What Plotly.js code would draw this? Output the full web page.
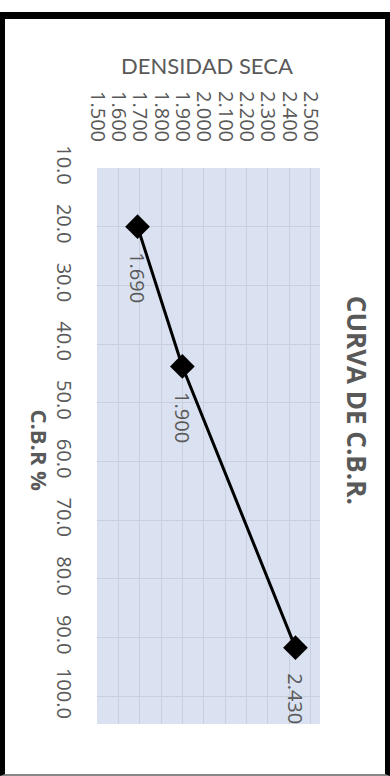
<!DOCTYPE html>
<html>
<head>
<meta charset="utf-8">
<script src="https://cdn.plot.ly/plotly-3.0.1.min.js"></script>
<style>
  html, body { margin:0; padding:0; background:#ffffff; width:390px; height:776px; overflow:hidden; }
  #frame { position:absolute; left:0; top:12px; width:380px; height:755px;
           border-left:5px solid #000; border-right:5px solid #000; border-top:7px solid #000; border-bottom:2px solid #888; background:#fff; }
  #chart { width:380px; height:755px; }
</style>
</head>
<body>
<div id="frame"><div id="chart"></div></div>
<script>
// Data
const cbrPercent = [20.0, 43.8, 91.7];          // C.B.R %
const densidadSeca = [1.690, 1.900, 2.430];     // DENSIDAD SECA
const densidadLabels = ['1.690', '1.900', '2.430'];
const densidadTicks = [1.5, 1.6, 1.7, 1.8, 1.9, 2.0, 2.1, 2.2, 2.3, 2.4, 2.5];
const cbrTicks = [10, 20, 30, 40, 50, 60, 70, 80, 90, 100];

const textColor = '#595959';
const gridColor = '#c9cfdc';

const trace = {
  x: densidadSeca,
  y: cbrPercent,
  type: 'scatter',
  mode: 'lines+markers',
  line: { color: '#000000', width: 3 },
  marker: { symbol: 'diamond', size: 19, color: '#000000' },
  hoverinfo: 'skip',
  showlegend: false
};

const labelAnnotations = densidadSeca.map((d, i) => ({
  x: d, y: cbrPercent[i], xref: 'x', yref: 'y',
  text: densidadLabels[i], showarrow: false, textangle: 90,
  xanchor: 'center', yanchor: 'middle',
  yshift: -51,
  font: { family: 'Open Sans', size: 20, color: textColor }
}));

const layout = {
  width: 380, height: 755,
  margin: { l: 92, r: 65, t: 149, b: 50 },
  paper_bgcolor: '#ffffff',
  plot_bgcolor: '#dae1f1',
  showlegend: false,
  xaxis: {
    side: 'top',
    range: [1.5, 2.545],
    tickvals: densidadTicks,
    ticktext: densidadTicks.map(v => v.toFixed(3)),
    tickangle: 90,
    ticks: 'outside', ticklen: 18, tickcolor: 'rgba(0,0,0,0)',
    tickfont: { family: 'Open Sans', size: 20, color: textColor },
    showgrid: true, gridcolor: gridColor, gridwidth: 1,
    zeroline: false, showline: false
  },
  yaxis: {
    range: [104.7, 10],
    tickvals: cbrTicks,
    ticktext: cbrTicks.map(v => v.toFixed(1)),
    tickangle: 90,
    ticks: 'outside', ticklen: 15, tickcolor: 'rgba(0,0,0,0)',
    tickfont: { family: 'Open Sans', size: 20, color: textColor },
    showgrid: true, gridcolor: gridColor, gridwidth: 1,
    zeroline: false, showline: false
  },
  annotations: labelAnnotations.concat([
    { text: 'DENSIDAD SECA', xref: 'paper', yref: 'paper', x: 0.493, y: 1.185,
      xanchor: 'center', yanchor: 'middle',
      showarrow: false, font: { family: 'Lato', size: 22, color: textColor } },
    { text: '<b>C.B.R %</b>', xref: 'paper', yref: 'paper', x: -0.256, y: 0.492,
      xanchor: 'center', yanchor: 'middle',
      showarrow: false, textangle: 90, font: { family: 'Open Sans', size: 22, color: textColor } },
    { text: '<b>CURVA DE C.B.R.</b>', xref: 'paper', yref: 'paper', x: 1.166, y: 0.583,
      xanchor: 'center', yanchor: 'middle',
      showarrow: false, textangle: 90, font: { family: 'Open Sans', size: 26, color: textColor } }
  ])
};

Plotly.newPlot('chart', [trace], layout, { displayModeBar: false, staticPlot: true });
</script>
</body>
</html>
